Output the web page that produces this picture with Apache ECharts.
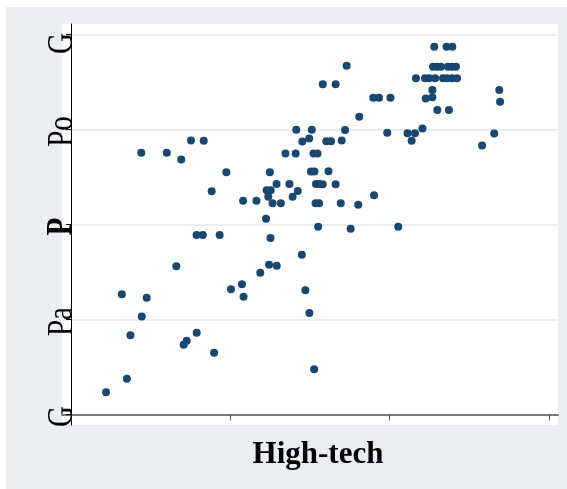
<!DOCTYPE html>
<html>
<head>
<meta charset="utf-8">
<script src="https://cdn.jsdelivr.net/npm/echarts@6/dist/echarts.min.js"></script>
<style>
  html, body { margin: 0; padding: 0; background: #ffffff; }
  #chart { position: absolute; left: 6px; top: 7px; width: 561px; height: 482px; }
</style>
</head>
<body>
<div id="chart"></div>
<script>
// High-tech share (x) against rating score (y), one point per observation
const highTech = [
  0.220, 0.351, 0.373, 0.319, 0.475, 0.444, 0.441, 0.601, 0.692, 0.753,
  0.833, 0.661, 0.707, 0.726, 0.789, 0.898, 0.788, 0.827, 0.933, 0.883,
  0.975, 1.004, 1.073, 1.083, 1.080, 1.164, 1.188, 1.243, 1.291, 1.252,
  1.224, 1.248, 1.228, 1.253, 1.238, 1.265, 1.317, 1.290, 1.371, 1.423,
  1.391, 1.346, 1.410, 1.414, 1.511, 1.495, 1.452, 1.522, 1.547, 1.506,
  1.528, 1.538, 1.558, 1.535, 1.557, 1.551, 1.449, 1.471, 1.496, 1.526,
  1.602, 1.632, 1.699, 1.720, 1.580, 1.661, 1.730, 1.809, 1.616, 1.580,
  1.661, 1.693, 1.803, 1.902, 1.755, 2.054, 1.897, 1.933, 2.005, 1.985,
  2.112, 2.159, 2.138, 2.206, 2.656, 2.580, 2.688, 2.693, 2.299, 2.372,
  2.268, 2.226, 2.268, 2.280, 2.357, 2.393,
  2.272, 2.297, 2.322, 2.366, 2.391, 2.416,
  2.165, 2.222, 2.247, 2.285, 2.335, 2.360, 2.391, 2.423
];
const rating = [
  0.234, 0.376, 0.834, 1.266, 1.229, 1.032, 2.756, 2.756, 2.684, 2.884,
  2.882, 1.560, 0.735, 0.776, 0.861, 0.651, 1.889, 1.889, 1.889, 2.349,
  2.549, 1.318, 1.371, 1.240, 2.251, 2.251, 1.493, 1.576, 1.566, 1.858,
  2.061, 2.551, 2.361, 2.361, 2.293, 2.223, 2.223, 2.426, 2.426, 2.353,
  2.293, 2.749, 2.749, 2.998, 2.998, 2.905, 2.874, 2.749, 2.749, 2.558,
  2.558, 2.426, 2.426, 2.223, 2.223, 1.977, 1.682, 1.308, 1.068, 0.477,
  2.877, 2.877, 2.884, 2.995, 3.476, 3.476, 3.672, 3.135, 2.561, 2.423,
  2.423, 2.223, 2.208, 2.307, 1.956, 1.977, 3.335, 3.335, 3.335, 2.966,
  2.960, 2.960, 2.882, 3.011, 2.958, 2.832, 3.416, 3.293, 3.205, 3.205,
  3.416, 3.328, 3.339, 3.872, 3.872, 3.872,
  3.661, 3.661, 3.661, 3.661, 3.661, 3.661,
  3.539, 3.539, 3.539, 3.539, 3.539, 3.539, 3.539, 3.539
];

// Axis ticks and the rating labels placed on them
const xTickValues = [0, 1, 2, 3];
const yTickValues = [0, 1, 2, 3, 4];
const yTickLabels = ['G', 'Pa', 'P', 'Po', 'G'];
const xTitle = 'High-tech';

const points = highTech.map((x, i) => [x, rating[i]]);

const chart = echarts.init(document.getElementById('chart'), null, { renderer: 'canvas' });
chart.setOption({
  backgroundColor: '#eaeef2',
  animation: false,
  grid: {
    left: 56, right: 9, top: 17, bottom: 64,
    show: true, backgroundColor: '#ffffff', borderWidth: 0
  },
  xAxis: {
    type: 'value',
    min: -0.0565, max: 3.0565,
    name: xTitle,
    nameLocation: 'middle',
    nameGap: 14,
    nameTextStyle: {
      fontFamily: 'Liberation Serif', fontWeight: 'bold', fontSize: 31,
      color: '#000', padding: [0, 0, 0, 16]
    },
    axisLine: { show: true, lineStyle: { color: '#7a7a7a', width: 2 } },
    axisTick: { show: true, customValues: xTickValues, length: 6, lineStyle: { color: '#555', width: 1 } },
    axisLabel: { show: false },
    splitLine: { show: false }
  },
  yAxis: {
    type: 'value',
    min: -0.1105, max: 4.111,
    axisLine: { show: true, lineStyle: { color: '#000', width: 1 } },
    axisTick: { show: true, customValues: yTickValues, length: 5, lineStyle: { color: '#000', width: 1 } },
    axisLabel: { show: false, customValues: yTickValues },
    splitLine: { show: true, lineStyle: { color: '#e3e9ef', width: 1.5 } }
  },
  series: [{
    type: 'scatter',
    data: points,
    symbol: 'circle',
    symbolSize: 8,
    itemStyle: { color: '#1a476f', opacity: 1 },
    clip: false
  }]
});

// Vertical rating labels: tall serif glyphs set across the y axis line,
// positioned at each tick through the axis scale.
const axisX = chart.convertToPixel({ xAxisIndex: 0 }, -0.0565);
const labelGraphics = yTickValues.map((v, i) => {
  const y = chart.convertToPixel({ yAxisIndex: 0 }, v);
  const nudge = i === yTickValues.length - 1 ? 9 : 2;
  return {
    type: 'text',
    x: axisX + 0.5,
    y: y + nudge,
    rotation: Math.PI / 2,
    scaleX: 1,
    scaleY: 1.2,
    z: 10,
    style: {
      text: yTickLabels[i],
      font: (i === 2 ? 'bold ' : '') + '29px "Liberation Serif"',
      fill: '#000',
      align: 'center',
      verticalAlign: 'middle'
    }
  };
});
chart.setOption({ graphic: labelGraphics });
</script>
</body>
</html>
